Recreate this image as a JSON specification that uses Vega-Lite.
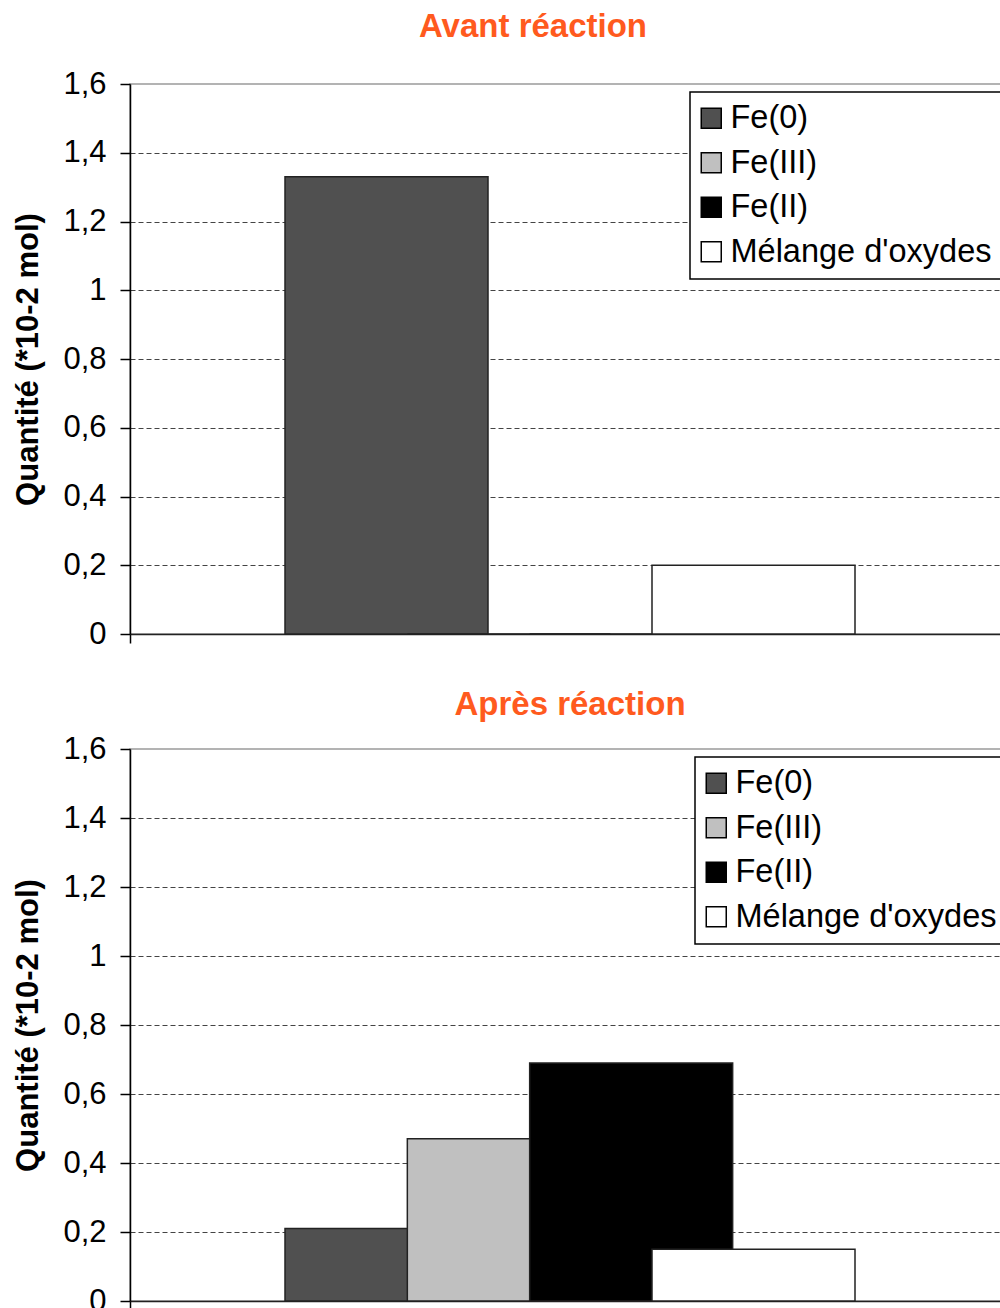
{
  "$schema": "https://vega.github.io/schema/vega-lite/v6.json",
  "padding": {"left": 12, "top": 10, "right": 0, "bottom": 0},
  "spacing": 38,
  "config": {
    "font": "Liberation Sans",
    "view": {"stroke": "#9a9a9a", "strokeWidth": 1.5},
    "title": {"fontSize": 33, "fontWeight": "bold", "color": "#FF5A1E", "font": "Liberation Sans"},
    "axisY": {
      "labelFontSize": 31, "labelColor": "#000", "labelFont": "Liberation Sans",
      "titleFontSize": 31, "titleFontWeight": "bold", "titleColor": "#000", "titlePadding": 18,
      "domainColor": "#000", "domainWidth": 1.5, "tickColor": "#000", "tickSize": 10, "tickWidth": 1.5,
      "labelPadding": 14, "gridColor": "#444", "gridDash": [5, 3], "gridWidth": 1
    },
    "axisX": {
      "domainColor": "#222", "domainWidth": 1.5, "ticks": true, "tickColor": "#000", "tickSize": 9, "tickWidth": 1.5,
      "bandPosition": 0, "labels": false, "title": null, "grid": false
    },
    "legend": {
      "orient": "none", "legendX": 560, "legendY": 8,
      "strokeColor": "#000", "strokeWidth": 1.5, "fillColor": "#fff", "padding": 10,
      "labelFontSize": 32.5, "labelFont": "Liberation Sans", "labelColor": "#000", "labelLimit": 500,
      "symbolType": "square", "symbolSize": 400, "symbolStrokeColor": "#000", "symbolStrokeWidth": 1.5,
      "symbolOffset": -5, "rowPadding": 11.5, "labelOffset": 3, "title": null
    }
  },
  "datasets": {
    "avant": [
      {"moment": "Avant réaction", "série": "Fe(0)", "quantité": 1.33},
      {"moment": "Avant réaction", "série": "Fe(III)", "quantité": 0},
      {"moment": "Avant réaction", "série": "Fe(II)", "quantité": 0},
      {"moment": "Avant réaction", "série": "Mélange d'oxydes", "quantité": 0.2}
    ],
    "apres": [
      {"moment": "Après réaction", "série": "Fe(0)", "quantité": 0.21},
      {"moment": "Après réaction", "série": "Fe(III)", "quantité": 0.47},
      {"moment": "Après réaction", "série": "Fe(II)", "quantité": 0.69},
      {"moment": "Après réaction", "série": "Mélange d'oxydes", "quantité": 0.15}
    ]
  },
  "vconcat": [
    {
      "title": {"text": "Avant réaction", "dx": -37, "offset": 24},
      "width": 880,
      "height": 550,
      "data": {"name": "avant"},
      "mark": {"type": "bar", "width": 203, "stroke": "#222", "strokeWidth": 1.5},
      "encoding": {
        "x": {"field": "moment", "type": "nominal", "scale": {"paddingInner": 0, "paddingOuter": 0}},
        "xOffset": {"field": "série", "type": "nominal", "sort": null,
              "scale": {"type": "point", "padding": 0, "range": [256.5, 623.5], "domain": ["Fe(0)", "Fe(III)", "Fe(II)", "Mélange d'oxydes"]}},
        "y": {"field": "quantité", "type": "quantitative",
              "scale": {"domain": [0, 1.6]},
              "axis": {"values": [0, 0.2, 0.4, 0.6, 0.8, 1, 1.2, 1.4, 1.6], "labelExpr": "replace(format(datum.value, '~g'), '.', ',')",
                       "title": "Quantité (*10-2 mol)",
                       "gridOpacity": {"condition": {"test": "datum.value >= 1.6 || datum.value <= 0", "value": 0}, "value": 1}}},
        "color": {"field": "série", "type": "nominal",
                  "scale": {"domain": ["Fe(0)", "Fe(III)", "Fe(II)", "Mélange d'oxydes"], "range": ["#505050", "#c0c0c0", "#000000", "#ffffff"]}}
      }
    },
    {
      "title": {"text": "Après réaction", "offset": 11},
      "width": 880,
      "height": 552,
      "data": {"name": "apres"},
      "mark": {"type": "bar", "width": 203, "stroke": "#222", "strokeWidth": 1.5},
      "encoding": {
        "x": {"field": "moment", "type": "nominal", "scale": {"paddingInner": 0, "paddingOuter": 0}},
        "xOffset": {"field": "série", "type": "nominal", "sort": null,
              "scale": {"type": "point", "padding": 0, "range": [256.5, 623.5], "domain": ["Fe(0)", "Fe(III)", "Fe(II)", "Mélange d'oxydes"]}},
        "y": {"field": "quantité", "type": "quantitative",
              "scale": {"domain": [0, 1.6]},
              "axis": {"values": [0, 0.2, 0.4, 0.6, 0.8, 1, 1.2, 1.4, 1.6], "labelExpr": "replace(format(datum.value, '~g'), '.', ',')",
                       "title": "Quantité (*10-2 mol)",
                       "gridOpacity": {"condition": {"test": "datum.value >= 1.6 || datum.value <= 0", "value": 0}, "value": 1}}},
        "color": {"field": "série", "type": "nominal",
                  "scale": {"domain": ["Fe(0)", "Fe(III)", "Fe(II)", "Mélange d'oxydes"], "range": ["#505050", "#c0c0c0", "#000000", "#ffffff"]},
                  "legend": {"legendX": 565}}
      }
    }
  ],
  "resolve": {"scale": {"color": "independent"}, "legend": {"color": "independent"}}
}
